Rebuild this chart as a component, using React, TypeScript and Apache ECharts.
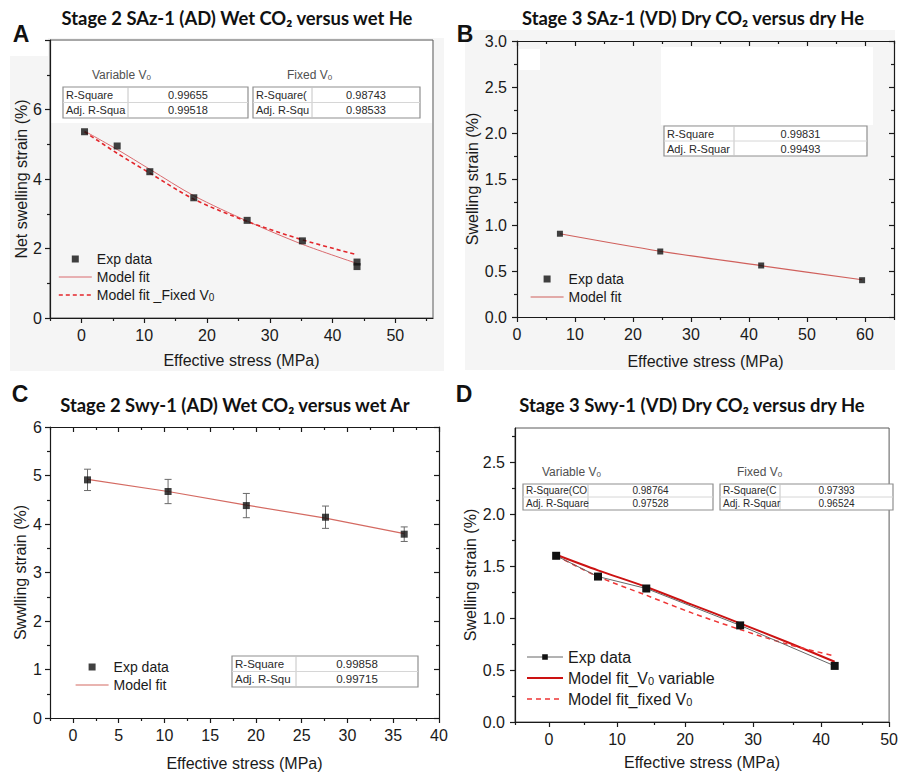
import React, { useEffect, useRef } from "react";
import * as echarts from "echarts";

// ---------------- DATA ----------------
// Panel A
const aExpX = [0.5, 5.7, 10.9, 17.9, 26.4, 35.2, 43.9, 43.9];
const aExpY = [5.36, 4.95, 4.21, 3.46, 2.81, 2.22, 1.61, 1.48];
const aFitX = [0.5, 5.7, 10.9, 17.9, 26.4, 35.2, 43.9];
const aFitVarY = [5.38, 4.85, 4.28, 3.52, 2.79, 2.12, 1.57];
const aFitFixY = [5.36, 4.74, 4.17, 3.42, 2.78, 2.25, 1.82];
const aXTicks = [0, 10, 20, 30, 40, 50];
const aXMinor = [-5, 5, 15, 25, 35, 45, 55];
const aYTicks = [0, 2, 4, 6, 8];
const aYLabels = [0, 2, 4, 6];
const aYMinor = [1, 3, 5, 7];
const aTableVarLabels = ["R-Square", "Adj. R-Squa"];
const aTableVarValues = ["0.99655", "0.99518"];
const aTableFixLabels = ["R-Square(", "Adj. R-Squ"];
const aTableFixValues = ["0.98743", "0.98533"];

// Panel B
const bExpX = [7.4, 24.7, 42.1, 59.5];
const bExpY = [0.905, 0.712, 0.56, 0.4];
const bFitX = [7.4, 24.7, 42.1, 59.5];
const bFitY = [0.905, 0.715, 0.558, 0.405];
const bXTicks = [0, 10, 20, 30, 40, 50, 60];
const bXMinor = [5, 15, 25, 35, 45, 55, 65];
const bYTicks = [0, 0.5, 1, 1.5, 2, 2.5, 3];
const bYMinor = [0.25, 0.75, 1.25, 1.75, 2.25, 2.75];
const bTableLabels = ["R-Square", "Adj. R-Squar"];
const bTableValues = ["0.99831", "0.99493"];

// Panel C
const cExpX = [1.6, 10.4, 18.95, 27.6, 36.2];
const cExpY = [4.91, 4.67, 4.38, 4.14, 3.79];
const cErr = [0.22, 0.25, 0.25, 0.23, 0.15];
const cFitX = [1.6, 10.4, 18.95, 27.6, 36.2];
const cFitY = [4.92, 4.67, 4.39, 4.12, 3.8];
const cXTicks = [0, 5, 10, 15, 20, 25, 30, 35, 40];
const cXMinor = [-2.5, 2.5, 7.5, 12.5, 17.5, 22.5, 27.5, 32.5, 37.5];
const cYTicks = [0, 1, 2, 3, 4, 5, 6];
const cYMinor = [0.5, 1.5, 2.5, 3.5, 4.5, 5.5];
const cTableLabels = ["R-Square", "Adj. R-Squ"];
const cTableValues = ["0.99858", "0.99715"];

// Panel D
const dExpX = [1.05, 7.2, 14.3, 28.1, 42.0];
const dExpY = [1.6, 1.4, 1.285, 0.93, 0.54];
const dFitX = [1.05, 7.2, 14.3, 21, 28.1, 35, 42.0];
const dFitVarY = [1.61, 1.46, 1.3, 1.13, 0.95, 0.77, 0.58];
const dFitFixY = [1.6, 1.4, 1.22, 1.05, 0.89, 0.75, 0.635];
const dXTicks = [0, 10, 20, 30, 40, 50];
const dXMinor = [-5, 5, 15, 25, 35, 45];
const dYTicks = [0, 0.5, 1, 1.5, 2, 2.5];
const dYMinor = [0.25, 0.75, 1.25, 1.75, 2.25, 2.75];
const dTableVarLabels = ["R-Square(CO", "Adj. R-Square"];
const dTableVarValues = ["0.98764", "0.97528"];
const dTableFixLabels = ["R-Square(C", "Adj. R-Squar"];
const dTableFixValues = ["0.97393", "0.96524"];

const LEGEND_TEXT: Record<string, string> = {
  aExp: "Exp data",
  aFitVar: "Model fit",
  aFitFix: "Model fit _Fixed V{s|0}",
  bExp: "Exp data",
  bFit: "Model fit",
  cExp: "Exp data",
  cFit: "Model fit",
  dExp: "Exp data",
  dFitVar: "Model fit_V{s|0} variable",
  dFitFix: "Model fit_fixed V{s|0}",
};

// ---------------- STYLE ----------------
const FONT = "Arial, Liberation Sans, sans-serif";
const TITLE_FONT = "Lato, Open Sans, sans-serif";
const INK = "#1a1a1a";
const SQUARE_ICON = "path://M0,0L10,0L10,10L0,10Z";

const zip = (xs: number[], ys: number[]) => xs.map((x, i) => [x, ys[i]]);

type Panel = {
  left: number; top: number; width: number; height: number;
  xMin: number; xMax: number; yMin: number; yMax: number;
  xTicks: number[]; xLabels: number[]; xMinor: number[];
  yTicks: number[]; yLabels: number[]; yMinor: number[];
  yFmt: (v: number) => string;
  mirror: boolean; border: boolean;
  xName: string; yName: string; xNameGap: number; yNameGap: number;
  xLabelMargin: number; yLabelMargin: number;
};

const PANELS: Panel[] = [
  {
    left: 50, top: 40, width: 383, height: 278, xMin: -5, xMax: 56, yMin: 0, yMax: 8,
    xTicks: aXTicks, xLabels: aXTicks, xMinor: aXMinor, yTicks: aYTicks, yLabels: aYLabels, yMinor: aYMinor,
    yFmt: (v) => String(v), mirror: false, border: true,
    xName: "Effective stress (MPa)", yName: "Net swelling strain (%)", xNameGap: 34, yNameGap: 21,
    xLabelMargin: 9, yLabelMargin: 8,
  },
  {
    left: 517, top: 41, width: 377, height: 276, xMin: 0, xMax: 65, yMin: 0, yMax: 3,
    xTicks: bXTicks, xLabels: bXTicks, xMinor: bXMinor, yTicks: bYTicks, yLabels: bYTicks, yMinor: bYMinor,
    yFmt: (v) => v.toFixed(1), mirror: true, border: false,
    xName: "Effective stress (MPa)", yName: "Swelling strain (%)", xNameGap: 36, yNameGap: 34,
    xLabelMargin: 9, yLabelMargin: 10,
  },
  {
    left: 50, top: 427, width: 389, height: 291, xMin: -2.5, xMax: 40, yMin: 0, yMax: 6,
    xTicks: cXTicks, xLabels: cXTicks, xMinor: cXMinor, yTicks: cYTicks, yLabels: cYTicks, yMinor: cYMinor,
    yFmt: (v) => String(v), mirror: true, border: false,
    xName: "Effective stress (MPa)", yName: "Swwlling strain (%)", xNameGap: 37, yNameGap: 22,
    xLabelMargin: 9, yLabelMargin: 8,
  },
  {
    left: 515, top: 428, width: 382, height: 294, xMin: -5, xMax: 50, yMin: 0, yMax: 2.83,
    xTicks: dXTicks, xLabels: dXTicks, xMinor: dXMinor, yTicks: dYTicks, yLabels: dYTicks, yMinor: dYMinor,
    yFmt: (v) => v.toFixed(1), mirror: false, border: true,
    xName: "Effective stress (MPa)", yName: "Swelling strain (%)", xNameGap: 32, yNameGap: 32,
    xLabelMargin: 9, yLabelMargin: 10,
  },
];

function tableEls(x: number, y: number, w: number, h: number, colW: number,
  labels: string[], values: string[], fs: number) {
  const els: any[] = [];
  els.push({ type: "rect", z: 50, silent: true, shape: { x, y, width: w, height: h },
    style: { fill: "#ffffff", stroke: "#8f8f8f", lineWidth: 1.2 } });
  els.push({ type: "line", z: 51, silent: true, shape: { x1: x + colW, y1: y, x2: x + colW, y2: y + h },
    style: { stroke: "#c4c4c4", lineWidth: 1 } });
  els.push({ type: "line", z: 51, silent: true, shape: { x1: x, y1: y + h / 2, x2: x + w, y2: y + h / 2 },
    style: { stroke: "#d6d6d6", lineWidth: 1 } });
  labels.forEach((t, i) => {
    els.push({ type: "text", z: 52, silent: true,
      style: { text: t, x: x + 3, y: y + h / 4 + (i * h) / 2, fontSize: fs, fontFamily: FONT, fill: "#2a2a2a",
        align: "left", verticalAlign: "middle", textAlign: "left", textVerticalAlign: "middle" } });
  });
  values.forEach((t, i) => {
    els.push({ type: "text", z: 52, silent: true,
      style: { text: t, x: x + colW + (w - colW) / 2, y: y + h / 4 + (i * h) / 2, fontSize: fs, fontFamily: FONT,
        fill: "#2a2a2a", align: "center", verticalAlign: "middle", textAlign: "center", textVerticalAlign: "middle" } });
  });
  return els;
}

function headerEl(text: string, x: number, y: number) {
  return { type: "text", z: 52, silent: true,
    style: { text, x, y, fontSize: 12, fontFamily: FONT, fill: "#505050",
      align: "left", verticalAlign: "middle", textAlign: "left", textVerticalAlign: "middle",
      rich: { s: { fontSize: 8, fontFamily: FONT, fill: "#505050", verticalAlign: "bottom", lineHeight: 6 } } } };
}

function textEl(text: string, x: number, y: number, fontSize: number, fontFamily: string, fontWeight: string) {
  return { type: "text", z: 60, silent: true,
    style: { text, x, y, fontSize, fontFamily, fontWeight, fill: "#111111",
      align: "center", verticalAlign: "middle", textAlign: "center", textVerticalAlign: "middle" } };
}

function buildOption() {
  const grids: any[] = [];
  const xAxes: any[] = [];
  const yAxes: any[] = [];
  const idx: { x: number; y: number }[] = [];
  const lineStyle = { color: INK, width: 1.2 };
  const labelStyle = { fontSize: 16, fontFamily: FONT, color: INK };

  PANELS.forEach((p) => {
    const rect = { left: p.left, top: p.top, width: p.width, height: p.height };
    const gMain = grids.length;
    grids.push({ ...rect, show: p.border, borderColor: "#5a5a5a", borderWidth: 1, backgroundColor: "transparent" });
    const gMinor = grids.length;
    grids.push({ ...rect, show: false });

    const xBase = { type: "value", min: p.xMin, max: p.xMax, splitLine: { show: false } };
    const yBase = { type: "value", min: p.yMin, max: p.yMax, splitLine: { show: false } };

    const xi = xAxes.length;
    xAxes.push({ ...xBase, gridIndex: gMain, position: "bottom",
      axisLine: { show: true, onZero: false, lineStyle },
      axisTick: { show: true, customValues: p.xTicks, length: 5, lineStyle },
      axisLabel: { show: true, customValues: p.xLabels, margin: p.xLabelMargin, ...labelStyle, formatter: (v: number) => String(v) },
      name: p.xName, nameLocation: "middle", nameGap: p.xNameGap, nameTextStyle: labelStyle });
    xAxes.push({ ...xBase, gridIndex: gMinor, position: "bottom",
      axisLine: { show: false, onZero: false },
      axisTick: { show: true, customValues: p.xMinor, length: 3, lineStyle },
      axisLabel: { show: false } });
    if (p.mirror) {
      xAxes.push({ ...xBase, gridIndex: gMain, position: "top",
        axisLine: { show: true, onZero: false, lineStyle },
        axisTick: { show: true, inside: true, customValues: p.xTicks, length: 5, lineStyle },
        axisLabel: { show: false } });
      xAxes.push({ ...xBase, gridIndex: gMinor, position: "top",
        axisLine: { show: false, onZero: false },
        axisTick: { show: true, inside: true, customValues: p.xMinor, length: 3, lineStyle },
        axisLabel: { show: false } });
    }

    const yi = yAxes.length;
    yAxes.push({ ...yBase, gridIndex: gMain, position: "left",
      axisLine: { show: true, onZero: false, lineStyle },
      axisTick: { show: true, customValues: p.yTicks, length: 5, lineStyle },
      axisLabel: { show: true, customValues: p.yLabels, margin: p.yLabelMargin, ...labelStyle, formatter: p.yFmt },
      name: p.yName, nameLocation: "middle", nameGap: p.yNameGap, nameTextStyle: labelStyle });
    yAxes.push({ ...yBase, gridIndex: gMinor, position: "left",
      axisLine: { show: false, onZero: false },
      axisTick: { show: true, customValues: p.yMinor, length: 3, lineStyle },
      axisLabel: { show: false } });
    if (p.mirror) {
      yAxes.push({ ...yBase, gridIndex: gMain, position: "right",
        axisLine: { show: true, onZero: false, lineStyle },
        axisTick: { show: true, inside: true, customValues: p.yTicks, length: 5, lineStyle },
        axisLabel: { show: false } });
      yAxes.push({ ...yBase, gridIndex: gMinor, position: "right",
        axisLine: { show: false, onZero: false },
        axisTick: { show: true, inside: true, customValues: p.yMinor, length: 3, lineStyle },
        axisLabel: { show: false } });
    }
    idx.push({ x: xi, y: yi });
  });

  const on = (k: number) => ({ xAxisIndex: idx[k].x, yAxisIndex: idx[k].y });
  const expStyle = { color: "#111111" };

  const series: any[] = [
    // A
    { name: "aFitVar", type: "line", ...on(0), data: zip(aFitX, aFitVarY), smooth: 0.3, symbol: "none",
      lineStyle: { color: "#d96a6e", width: 1 }, z: 3 },
    { name: "aFitFix", type: "line", ...on(0), data: zip(aFitX, aFitFixY), smooth: 0.3, symbol: "none",
      lineStyle: { color: "#e3262b", width: 1.6, type: [4, 3] }, z: 3 },
    { name: "aExp", type: "scatter", ...on(0), data: zip(aExpX, aExpY), symbol: "rect", symbolSize: 7,
      itemStyle: expStyle, z: 5 },
    // B
    { name: "bFit", type: "line", ...on(1), data: zip(bFitX, bFitY), smooth: 0.3, symbol: "none",
      lineStyle: { color: "#d0605c", width: 1.2 }, z: 3 },
    { name: "bExp", type: "scatter", ...on(1), data: zip(bExpX, bExpY), symbol: "rect", symbolSize: 6,
      itemStyle: expStyle, z: 5 },
    // C
    { name: "cErr", type: "custom", ...on(2), data: cExpX.map((x, i) => [x, cExpY[i], cErr[i]]),
      encode: { x: 0, y: 1 }, z: 2,
      renderItem: (_params: any, api: any) => {
        const x = api.value(0), y = api.value(1), e = api.value(2);
        const t = api.coord([x, y + e]);
        const b = api.coord([x, y - e]);
        const hw = 3.5;
        const st = { stroke: "#6a6a6a", lineWidth: 1 };
        return { type: "group", children: [
          { type: "line", shape: { x1: t[0], y1: t[1], x2: b[0], y2: b[1] }, style: st },
          { type: "line", shape: { x1: t[0] - hw, y1: t[1], x2: t[0] + hw, y2: t[1] }, style: st },
          { type: "line", shape: { x1: b[0] - hw, y1: b[1], x2: b[0] + hw, y2: b[1] }, style: st },
        ] };
      } },
    { name: "cFit", type: "line", ...on(2), data: zip(cFitX, cFitY), symbol: "none",
      lineStyle: { color: "#d46a62", width: 1.2 }, z: 3 },
    { name: "cExp", type: "scatter", ...on(2), data: zip(cExpX, cExpY), symbol: "rect", symbolSize: 7,
      itemStyle: expStyle, z: 5 },
    // D
    { name: "dExp", type: "line", ...on(3), data: zip(dExpX, dExpY), symbol: "rect", symbolSize: 8,
      showSymbol: true, lineStyle: { color: "#666666", width: 1 }, itemStyle: expStyle, z: 5 },
    { name: "dFitVar", type: "line", ...on(3), data: zip(dFitX, dFitVarY), smooth: 0.3, symbol: "none",
      lineStyle: { color: "#cc1212", width: 2 }, z: 4 },
    { name: "dFitFix", type: "line", ...on(3), data: zip(dFitX, dFitFixY), smooth: 0.3, symbol: "none",
      lineStyle: { color: "#ee3535", width: 1.5, type: [5, 4] }, z: 4 },
  ];

  const scatterItem = (name: string) => ({ name, icon: SQUARE_ICON });
  const lineItem = (name: string) => ({ name, itemStyle: { opacity: 0 } });

  const legendBase = (left: number, top: number, data: any[], fs: number, itemWidth: number, gap: number) => ({
    left, top, padding: 0, orient: "vertical", itemWidth, itemHeight: 7, itemGap: gap, selectedMode: false,
    symbolKeepAspect: true,
    data, formatter: (n: string) => LEGEND_TEXT[n] || n,
    lineStyle: { width: "inherit" },
    textStyle: { fontSize: fs, fontFamily: FONT, color: INK,
      rich: { s: { fontSize: Math.round(fs * 0.68), fontFamily: FONT, color: INK, verticalAlign: "bottom", lineHeight: 7 } } },
  });

  const legends = [
    legendBase(58, 252, [scatterItem("aExp"), lineItem("aFitVar"), lineItem("aFitFix")], 14, 33, 4),
    legendBase(530, 272, [scatterItem("bExp"), lineItem("bFit")], 14, 33, 4),
    legendBase(75, 660, [scatterItem("cExp"), lineItem("cFit")], 14, 33, 4),
    legendBase(526, 649, ["dExp", lineItem("dFitVar"), lineItem("dFitFix")], 16, 36, 5),
  ];

  const graphics: any[] = [
    // light-grey panel backgrounds (A, B)
    { type: "rect", z: -10, silent: true, shape: { x: 10, y: 38, width: 434, height: 333 }, style: { fill: "#f5f5f5" } },
    { type: "rect", z: -9, silent: true, shape: { x: 51, y: 41, width: 381, height: 82 }, style: { fill: "#ffffff" } },
    { type: "rect", z: -9, silent: true, shape: { x: 8, y: 38, width: 40, height: 18 }, style: { fill: "#ffffff" } },
    { type: "rect", z: -10, silent: true, shape: { x: 465, y: 30, width: 430, height: 340 }, style: { fill: "#f5f5f5" } },
    { type: "rect", z: -9, silent: true, shape: { x: 661, y: 47, width: 212, height: 78 }, style: { fill: "#ffffff" } },
    { type: "rect", z: -9, silent: true, shape: { x: 519, y: 49, width: 21, height: 21 }, style: { fill: "#ffffff" } },
    // titles
    textEl("Stage 2 SAz-1 (AD) Wet CO\u2082 versus wet He", 237, 18, 18.4, TITLE_FONT, "bold"),
    textEl("Stage 3 SAz-1 (VD) Dry CO\u2082 versus dry He", 693, 18, 18.4, TITLE_FONT, "bold"),
    textEl("Stage 2 Swy-1 (AD) Wet CO\u2082 versus wet Ar", 235, 405, 18.4, TITLE_FONT, "bold"),
    textEl("Stage 3 Swy-1 (VD) Dry CO\u2082 versus dry He", 692, 405, 18.4, TITLE_FONT, "bold"),
    // panel letters
    textEl("A", 21, 34, 23, FONT, "bold"),
    textEl("B", 465, 34, 23, FONT, "bold"),
    textEl("C", 20, 394, 23, FONT, "bold"),
    textEl("D", 464, 394, 23, FONT, "bold"),
    // table headers
    headerEl("Variable V{s|0}", 92, 75),
    headerEl("Fixed V{s|0}", 287, 75),
    headerEl("Variable V{s|0}", 542, 472),
    headerEl("Fixed V{s|0}", 737, 472),
    // tables
    ...tableEls(63, 87, 185, 31, 65, aTableVarLabels, aTableVarValues, 11),
    ...tableEls(253, 87, 167, 31, 59, aTableFixLabels, aTableFixValues, 11),
    ...tableEls(664, 126, 203, 30, 70, bTableLabels, bTableValues, 11),
    ...tableEls(232, 656, 186, 31, 64, cTableLabels, cTableValues, 11.5),
    ...tableEls(523, 484, 190, 26, 65, dTableVarLabels, dTableVarValues, 10),
    ...tableEls(720, 484, 173, 26, 60, dTableFixLabels, dTableFixValues, 10),
  ];

  return {
    animation: false,
    backgroundColor: "#ffffff",
    grid: grids,
    xAxis: xAxes,
    yAxis: yAxes,
    legend: legends,
    series,
    graphic: { elements: graphics },
  };
}

export default function App() {
  const ref = useRef<HTMLDivElement>(null);
  useEffect(() => {
    document.body.style.margin = "0";
    const chart = echarts.init(ref.current!, null, { renderer: "svg", width: 901, height: 774 });
    chart.setOption(buildOption() as any);
    return () => chart.dispose();
  }, []);
  return (
    <div
      ref={ref}
      style={{ position: "absolute", left: 0, top: 0, width: 901, height: 774, background: "#fff" }}
    />
  );
}
